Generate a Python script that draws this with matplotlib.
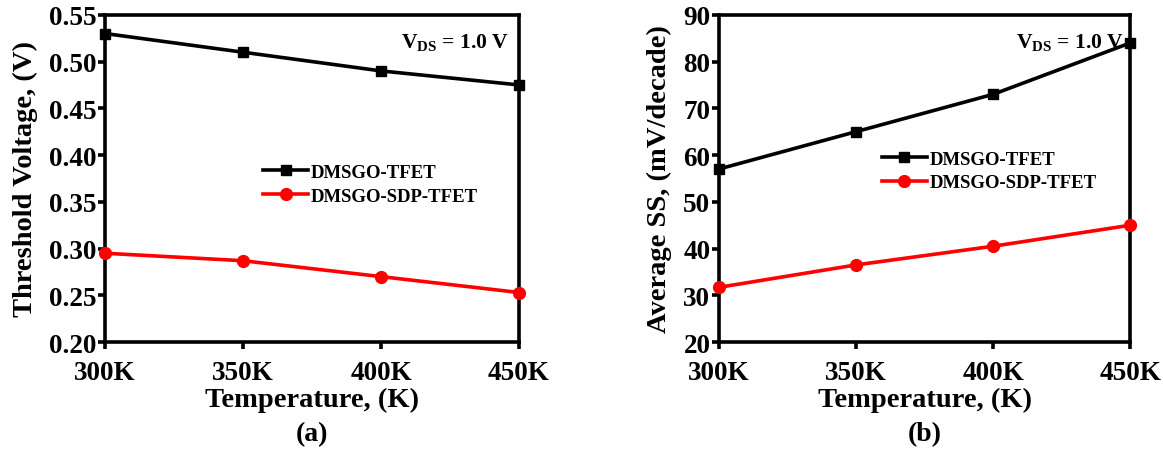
import matplotlib
matplotlib.use("Agg")
import matplotlib.pyplot as plt

plt.rcParams['font.family'] = ['Liberation Serif', 'DejaVu Serif']
plt.rcParams['font.weight'] = 'bold'
plt.rcParams['mathtext.fontset'] = 'custom'
plt.rcParams['mathtext.rm'] = 'Liberation Serif:bold'
plt.rcParams['mathtext.bf'] = 'Liberation Serif:bold'
plt.rcParams['mathtext.it'] = 'Liberation Serif:bold'

temps = [300, 350, 400, 450]
temp_labels = ['300K', '350K', '400K', '450K']
vth_tfet = [0.530, 0.510, 0.490, 0.475]
vth_sdp = [0.295, 0.287, 0.270, 0.253]
ss_tfet = [57, 65, 73, 84]
ss_sdp = [31.7, 36.5, 40.5, 45.0]
series_names = ['DMSGO-TFET', 'DMSGO-SDP-TFET']

fig = plt.figure(figsize=(11.63, 4.52), dpi=100)
ax1 = fig.add_axes([0.0903, 0.241, 0.356, 0.724])
ax2 = fig.add_axes([0.618, 0.241, 0.354, 0.724])

def style(ax, ys, ylim, yticks, yfmt, ylabel, cap, leg_anchor, vds_x):
    ax.plot(temps, ys[0], color='black', marker='s', lw=2.6, ms=7.5, label=series_names[0], clip_on=False, zorder=3)
    ax.plot(temps, ys[1], color='red', marker='o', lw=2.6, ms=8.5, label=series_names[1], clip_on=False, zorder=3)
    ax.set_xlim(300, 450)
    ax.set_ylim(*ylim)
    ax.set_xticks(temps)
    ax.set_xticklabels(temp_labels)
    ax.set_yticks(yticks)
    ax.set_yticklabels([yfmt.format(v) for v in yticks])
    for s in ax.spines.values():
        s.set_linewidth(2.6)
    ax.tick_params(direction='out', length=5, width=2.6, labelsize=19.5)
    ax.tick_params(axis='x', pad=8)
    ax.tick_params(axis='y', pad=1)
    for lab in ax.get_xticklabels() + ax.get_yticklabels():
        lab.set_fontweight('bold')
    ax.set_xlabel('Temperature, (K)', fontsize=20.5, fontweight='bold', labelpad=1)
    ax.set_ylabel(ylabel, fontsize=20.5, fontweight='bold', labelpad=8)
    ax.text(0.5, -0.24, cap, transform=ax.transAxes, ha='center', va='top', fontsize=20, fontweight='bold')
    ax.text(vds_x, 0.95, r'V$_{\mathrm{DS}}$ = 1.0 V', transform=ax.transAxes, ha='right', va='top', fontsize=15.5, fontweight='bold')
    ax.legend(loc='upper left', bbox_to_anchor=leg_anchor, frameon=False,
              prop={'size': 13.5, 'weight': 'bold'}, handlelength=2.4,
              handletextpad=0.15, labelspacing=0.35, borderpad=0, borderaxespad=0)

style(ax1, (vth_tfet, vth_sdp), (0.20, 0.55), [0.20, 0.25, 0.30, 0.35, 0.40, 0.45, 0.50, 0.55], '{:.2f}',
      'Threshold Voltage, (V)', '(a)', (0.382, 0.545), 0.975)
style(ax2, (ss_tfet, ss_sdp), (20, 90), [20, 30, 40, 50, 60, 70, 80, 90], '{:d}',
      'Average SS, (mV/decade)', '(b)', (0.396, 0.585), 0.985)

fig.savefig('out.png', dpi=100)
